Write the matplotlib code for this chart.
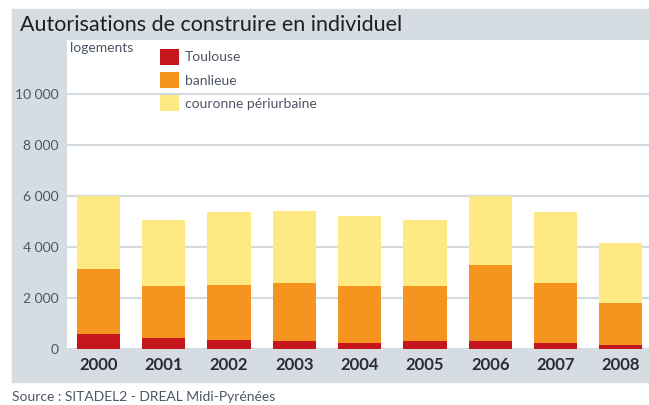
import matplotlib.pyplot as plt
from matplotlib.patches import Rectangle
import numpy as np

plt.rcParams["font.family"] = ["Lato", "DejaVu Sans"]

annees = ["2000", "2001", "2002", "2003", "2004", "2005", "2006", "2007", "2008"]
toulouse = [600, 450, 350, 300, 250, 300, 300, 250, 150]
banlieue = [2550, 2000, 2150, 2300, 2200, 2150, 3000, 2350, 1650]
periurbain = [2850, 2600, 2850, 2800, 2750, 2600, 2700, 2750, 2350]

rouge = "#c4161c"
orange = "#f5941e"
jaune = "#ffe982"
gris = "#d5dde3"
texte = "#4d5563"

W, H = 649, 405
fig = plt.figure(figsize=(W / 100, H / 100), dpi=100)

def px(x, y):
    return x / W, 1 - y / H

# fond gris du cadre
fig.patches.append(Rectangle(px(12, 382), (W - 12) / W, (382 - 9) / H,
                             transform=fig.transFigure, color=gris, zorder=-1))

ax = fig.add_axes([67 / W, 1 - 349 / H, (W - 67) / W, (349 - 40) / H])
ax.set_facecolor("white")

x = np.arange(len(annees))
b1 = ax.bar(x, toulouse, width=0.66, color=rouge, label="Toulouse", zorder=3)
b2 = ax.bar(x, banlieue, width=0.66, bottom=toulouse, color=orange,
            label="banlieue", zorder=3)
bas = np.array(toulouse) + np.array(banlieue)
b3 = ax.bar(x, periurbain, width=0.66, bottom=bas, color=jaune,
            label="couronne périurbaine", zorder=3)

ax.set_xlim(-0.48, 8.43)
ax.set_ylim(0, 12100)
ax.set_yticks(range(0, 10001, 2000))
ax.set_yticklabels(["0", "2 000", "4 000", "6 000", "8 000", "10 000"])
ax.yaxis.grid(True, color="#d3dbe1", linewidth=1.6, zorder=0)
ax.set_xticks(x)
ax.set_xticklabels(annees, fontsize=12, fontweight="bold", color="#2b2b33")
ax.tick_params(axis="both", length=0)
ax.tick_params(axis="y", labelsize=10, labelcolor=texte, pad=6)
ax.tick_params(axis="x", pad=6)
for s in ax.spines.values():
    s.set_visible(False)

ax.legend(handles=[b1, b2, b3], loc="upper left", bbox_to_anchor=px(160, 49),
          bbox_transform=fig.transFigure, frameon=False, fontsize=10,
          borderpad=0, borderaxespad=0, handlelength=1.35, handleheight=1.35,
          labelspacing=0.55, handletextpad=0.45, labelcolor=texte)

fig.text(*px(20, 25), "Autorisations de construire en individuel",
         fontsize=15.5, color="#1e1e24", va="center")
fig.text(*px(70, 48), "logements", fontsize=10, color=texte, va="center")
fig.text(*px(12, 397), "Source : SITADEL2 - DREAL Midi-Pyrénées",
         fontsize=10, color=texte, va="center")

fig.savefig("out.png", dpi=100)
